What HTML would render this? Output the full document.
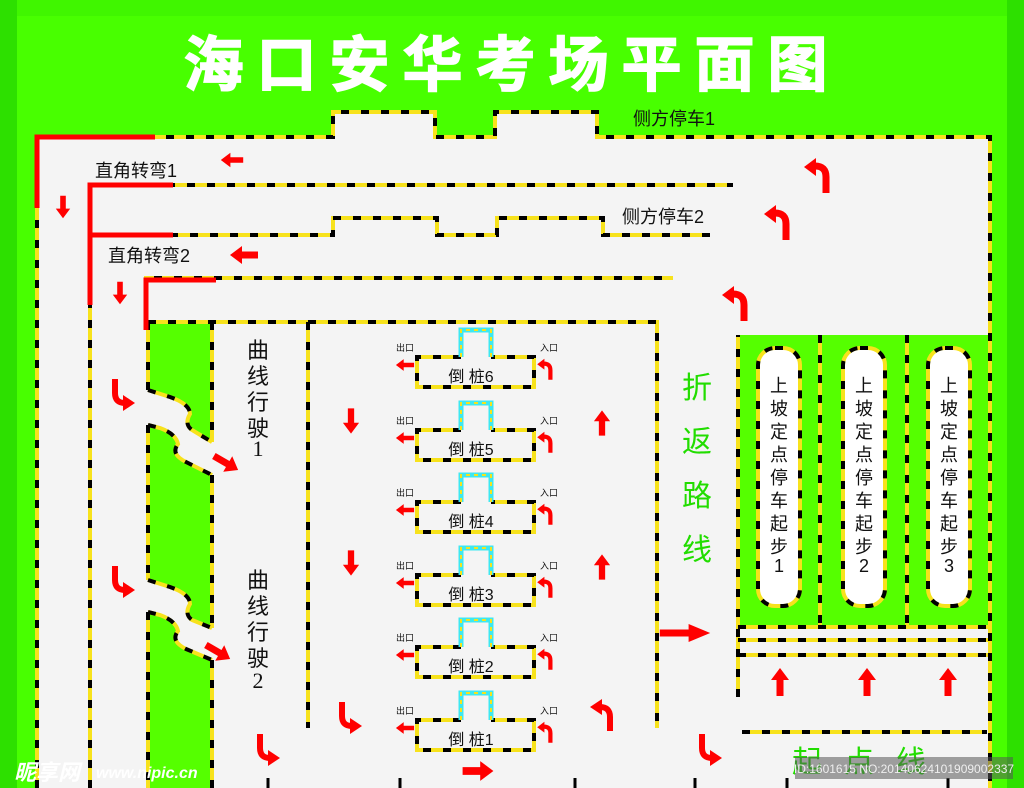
<!DOCTYPE html>
<html><head><meta charset="utf-8"><style>
html,body{margin:0;padding:0;background:#48ff00;}
svg{display:block;font-family:"Liberation Sans","Noto Sans CJK SC",sans-serif;}
.y{fill:none;stroke:#f7e21c;stroke-width:4;}
.k{fill:none;stroke:#000;stroke-width:4;stroke-dasharray:8 12;}
.r{fill:none;stroke:#ff0000;stroke-width:5;}
.a{fill:#ff0000;}
.t{fill:#111;}
</style></head><body>
<svg width="1024" height="788" viewBox="0 0 1024 788">
<defs>
 <path id="ar" d="M-14,-3.5 H2 V-9 L14,0 L2,9 V3.5 H-14 Z"/>
 <g id="cu"><path d="M4,18 V2 Q4,-9 -7,-9" fill="none" stroke="#ff0000" stroke-width="7"/><path d="M-6,-17 L-18,-8 L-6,1 Z" fill="#ff0000"/></g>
 <g id="cd"><path d="M-8,-16 V-2 Q-8,8 2,8" fill="none" stroke="#ff0000" stroke-width="6"/><path d="M0,0 L12,8 L0,16 Z" fill="#ff0000"/></g>
 <g id="g1">
  <path d="M37,788 V137 H333 V112 H435 V137 H495 V112 H597 V137 H990 V788"/>
  <path d="M90,788 V185 H733"/>
  <path d="M90,235 H333 V218 H437 V235 H497 V218 H603 V235 H710"/>
  <path d="M146,330 V278 H673"/>
  <path d="M148,322 H657 V728"/>
  <path d="M308,322 V728"/>
  <path d="M738,697 V335"/>
  <path d="M820,335 V627 M907,335 V627"/>
  <path d="M738,627 H990 M738,640 H990 M738,655 H990"/>
  <path d="M742,732 H987"/>
  <path d="M148,390 V322 M148,425 V580 M148,612 V788 M212,322 V442 M212,475 V628 M212,660 V788"/>
  <path d="M148,390 L170,397 Q190,404 190,414 Q184,424 192,430 L212,442"/>
  <path d="M148,425 L160,428 Q176,434 178,444 Q170,454 186,462 L212,475"/>
  <path d="M148,580 L170,587 Q190,594 190,604 Q184,614 192,620 L212,628"/>
  <path d="M148,612 L160,615 Q176,621 178,631 Q170,641 186,649 L212,660"/>
 </g>
 <g id="pill"><rect x="0" y="0" width="42" height="258" rx="17"/></g>
</defs>
<rect width="1024" height="788" fill="#48ff00"/>
<rect x="0" y="0" width="17" height="788" fill="#2de000"/>
<rect x="1007" y="0" width="17" height="788" fill="#2de000"/>
<rect x="17" y="0" width="990" height="16" fill="#2de000" opacity="0.3"/>
<path d="M37,788 V137 H333 V112 H435 V137 H495 V112 H597 V137 H990 V788 Z" fill="#f4f4f4"/>
<path d="M148,322 H212 V442 L192,430 Q184,424 190,414 Q190,404 170,397 L148,390 Z" fill="#55ff00"/>
<path d="M148,425 L160,428 Q176,434 178,444 Q170,454 186,462 L212,475 V628 L192,620 Q184,614 190,604 Q190,594 170,587 L148,580 Z" fill="#55ff00"/>
<path d="M148,612 L160,615 Q176,621 178,631 Q170,641 186,649 L212,660 V788 H148 Z" fill="#55ff00"/>
<rect x="738" y="335" width="252" height="292" fill="#55ff00"/>
<g fill="#fff"><use href="#pill" x="758" y="348"/><use href="#pill" x="843" y="348"/><use href="#pill" x="928" y="348"/></g>
<use href="#g1" class="y"/><use href="#g1" class="k"/>
<g class="y"><use href="#pill" x="758" y="348"/><use href="#pill" x="843" y="348"/><use href="#pill" x="928" y="348"/></g>
<g class="k"><use href="#pill" x="758" y="348"/><use href="#pill" x="843" y="348"/><use href="#pill" x="928" y="348"/></g>
<path class="r" d="M37,208 V137 H155"/>
<path class="r" d="M90,305 V185 H173 M90,235 H173"/>
<path class="r" d="M146,330 V280 H216"/>
<text x="512" y="86" text-anchor="middle" font-size="60" font-weight="bold" fill="#fff" stroke="#fff" stroke-width="1.5" letter-spacing="13">海口安华考场平面图</text>
<g class="t" font-size="18">
<text x="633" y="125">侧方停车1</text>
<text x="95" y="177">直角转弯1</text>
<text x="622" y="223">侧方停车2</text>
<text x="108" y="262">直角转弯2</text>
</g>
<g class="t" font-size="22" text-anchor="middle">
<text x="258" y="358">曲</text><text x="258" y="384">线</text><text x="258" y="410">行</text><text x="258" y="436">驶</text><text x="258" y="456" font-family="Liberation Serif">1</text>
<text x="258" y="588">曲</text><text x="258" y="614">线</text><text x="258" y="640">行</text><text x="258" y="666">驶</text><text x="258" y="688" font-family="Liberation Serif">2</text>
</g>
<g fill="#22dd00" font-size="30" text-anchor="middle">
<text x="697" y="398">折</text><text x="697" y="452">返</text><text x="697" y="506">路</text><text x="697" y="560">线</text>
</g>
<text x="870" y="772" fill="#22dd00" font-size="30" text-anchor="middle" letter-spacing="22">起点线</text>
<g class="t" font-size="18" text-anchor="middle">
<g><text x="779" y="392">上</text><text x="779" y="415">坡</text><text x="779" y="438">定</text><text x="779" y="461">点</text><text x="779" y="484">停</text><text x="779" y="507">车</text><text x="779" y="530">起</text><text x="779" y="553">步</text><text x="779" y="572">1</text></g>
<g transform="translate(85,0)"><text x="779" y="392">上</text><text x="779" y="415">坡</text><text x="779" y="438">定</text><text x="779" y="461">点</text><text x="779" y="484">停</text><text x="779" y="507">车</text><text x="779" y="530">起</text><text x="779" y="553">步</text><text x="779" y="572">2</text></g>
<g transform="translate(170,0)"><text x="779" y="392">上</text><text x="779" y="415">坡</text><text x="779" y="438">定</text><text x="779" y="461">点</text><text x="779" y="484">停</text><text x="779" y="507">车</text><text x="779" y="530">起</text><text x="779" y="553">步</text><text x="779" y="572">3</text></g>
</g>
<defs>
 <g id="st">
  <path d="M0,0 H44 V-27 H74 V0 H117 V30 H0 Z" fill="#f4f4f4"/>
  <path d="M44,0 H0 V30 H117 V0 H74" class="y"/><path d="M44,0 H0 V30 H117 V0 H74" class="k"/>
  <path d="M44,0 V-27 H74 V0" fill="none" stroke="#3ee8f0" stroke-width="5"/>
  <path d="M44,0 V-27 H74 V0" fill="none" stroke="#f7e21c" stroke-width="2" stroke-dasharray="4 4"/>
  <text x="-12" y="-6" font-size="9" text-anchor="middle" fill="#111">出口</text>
  <use href="#ar" class="a" transform="translate(-12,8) rotate(180) scale(0.65)"/>
  <text x="132" y="-6" font-size="9" text-anchor="middle" fill="#111">入口</text>
  <g transform="translate(131,12) scale(0.6)"><use href="#cu"/></g>
 </g>
</defs>
<g font-size="16" text-anchor="middle" class="t">
<use href="#st" x="417" y="357"/><text x="471" y="382">倒 桩6</text>
<use href="#st" x="417" y="430"/><text x="471" y="455">倒 桩5</text>
<use href="#st" x="417" y="502"/><text x="471" y="527">倒 桩4</text>
<use href="#st" x="417" y="575"/><text x="471" y="600">倒 桩3</text>
<use href="#st" x="417" y="647"/><text x="471" y="672">倒 桩2</text>
<use href="#st" x="417" y="720"/><text x="471" y="745">倒 桩1</text>
</g>
<g class="a">
<use href="#ar" transform="translate(232,160) rotate(180) scale(0.8)"/>
<use href="#ar" transform="translate(244,255) rotate(180)"/>
<use href="#ar" transform="translate(63,207) rotate(90) scale(0.8)"/>
<use href="#ar" transform="translate(120,293) rotate(90) scale(0.8)"/>
<use href="#ar" transform="translate(351,421) rotate(90) scale(0.9)"/>
<use href="#ar" transform="translate(351,563) rotate(90) scale(0.9)"/>
<use href="#ar" transform="translate(602,423) rotate(-90) scale(0.9)"/>
<use href="#ar" transform="translate(602,567) rotate(-90) scale(0.9)"/>
<use href="#ar" transform="translate(685,633) scale(1.8,1)"/>
<use href="#ar" transform="translate(478,771) scale(1.1)"/>
<use href="#ar" transform="translate(780,682) rotate(-90)"/>
<use href="#ar" transform="translate(867,682) rotate(-90)"/>
<use href="#ar" transform="translate(948,682) rotate(-90)"/>
<use href="#ar" transform="translate(226,463) rotate(30)"/>
<use href="#ar" transform="translate(218,652) rotate(30)"/>
</g>
<use href="#cu" transform="translate(822,175)"/>
<use href="#cu" transform="translate(782,222)"/>
<use href="#cu" transform="translate(740,303)"/>
<use href="#cd" transform="translate(123,395)"/>
<use href="#cd" transform="translate(123,582)"/>
<use href="#cd" transform="translate(350,718)"/>
<use href="#cd" transform="translate(268,750)"/>
<use href="#cd" transform="translate(710,750)"/>
<g transform="translate(602,715) scale(-1,-1)"><use href="#cd"/></g>
<g stroke="#000" stroke-width="3">
<path d="M268,778 V788 M400,778 V788 M575,778 V788 M695,778 V788 M787,778 V788 M948,778 V788"/>
</g>
<rect x="795" y="757" width="218" height="22" fill="#555" opacity="0.55"/>
<text x="904" y="773" font-size="12" fill="#eee" text-anchor="middle">ID:1601615 NO:20140624101909002337</text>
<text x="14" y="780" font-size="22" font-weight="bold" fill="#fff" font-style="italic">昵享网</text>
<text x="96" y="778" font-size="16" font-weight="bold" fill="#fff" font-style="italic">www.nipic.cn</text>
</svg>
</body></html>
